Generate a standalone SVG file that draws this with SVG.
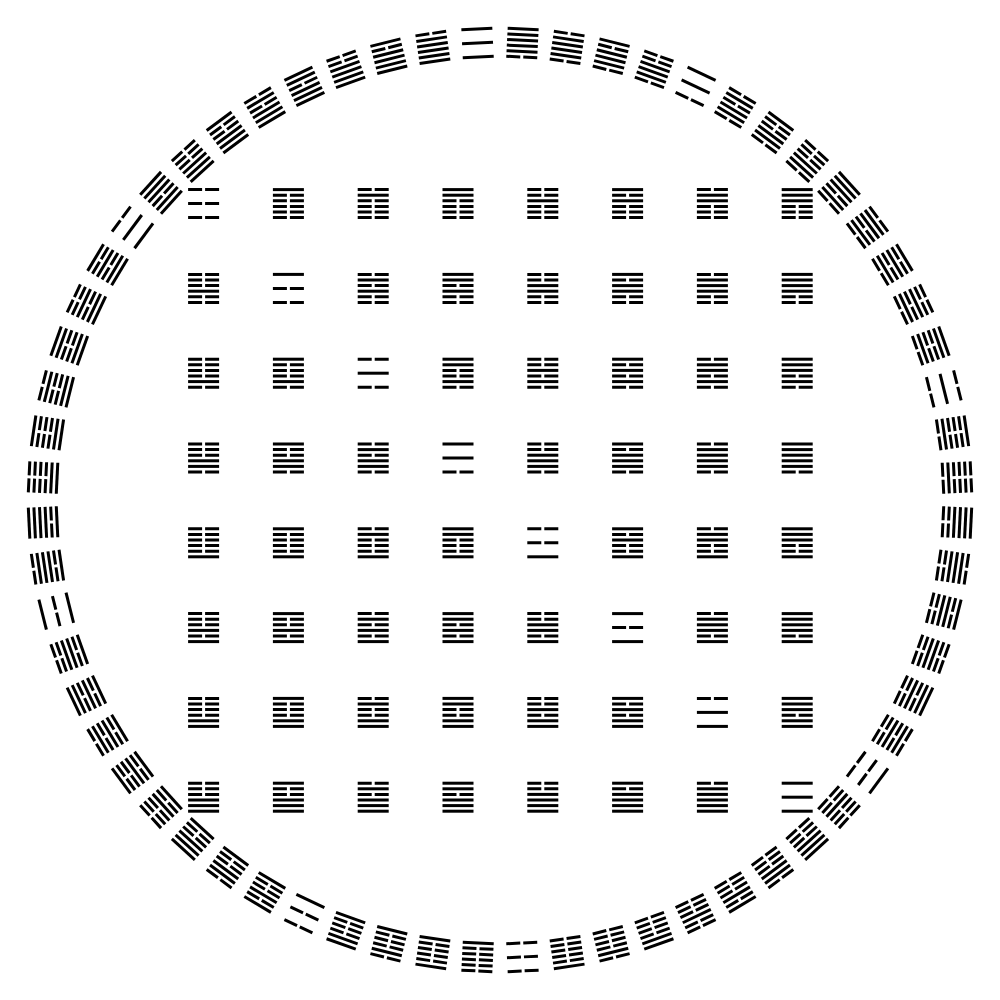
<svg xmlns="http://www.w3.org/2000/svg" xmlns:xlink="http://www.w3.org/1999/xlink" width="1000" height="1000" viewBox="0 0 1000 1000">
<style>
.ln{fill:#000}
</style>
<defs>
<rect id="Y0" class="ln" x="-15.5" y="-15.5" width="31" height="3"/>
<rect id="Y1" class="ln" x="-15.5" y="-9.9" width="31" height="3"/>
<rect id="Y2" class="ln" x="-15.5" y="-4.3" width="31" height="3"/>
<rect id="Y3" class="ln" x="-15.5" y="1.3" width="31" height="3"/>
<rect id="Y4" class="ln" x="-15.5" y="6.9" width="31" height="3"/>
<rect id="Y5" class="ln" x="-15.5" y="12.5" width="31" height="3"/>
<rect id="Ym" class="ln" x="-15.5" y="-1.5" width="31" height="3"/>
<path id="N0" class="ln" d="M-15.5 -15.5h14v3h-14zM1.5 -15.5h14v3h-14z"/>
<path id="N1" class="ln" d="M-15.5 -9.9h14v3h-14zM1.5 -9.9h14v3h-14z"/>
<path id="N2" class="ln" d="M-15.5 -4.3h14v3h-14zM1.5 -4.3h14v3h-14z"/>
<path id="N3" class="ln" d="M-15.5 1.3h14v3h-14zM1.5 1.3h14v3h-14z"/>
<path id="N4" class="ln" d="M-15.5 6.9h14v3h-14zM1.5 6.9h14v3h-14z"/>
<path id="N5" class="ln" d="M-15.5 12.5h14v3h-14zM1.5 12.5h14v3h-14z"/>
<path id="Nm" class="ln" d="M-15.5 -1.5h14v3h-14zM1.5 -1.5h14v3h-14z"/>
<g id="h0"><use href="#N0"/><use href="#Nm"/><use href="#N5"/></g>
<g id="h1"><use href="#Y0"/><use href="#N1"/><use href="#N2"/><use href="#N3"/><use href="#N4"/><use href="#N5"/></g>
<g id="h2"><use href="#N0"/><use href="#Y1"/><use href="#N2"/><use href="#N3"/><use href="#N4"/><use href="#N5"/></g>
<g id="h3"><use href="#Y0"/><use href="#Y1"/><use href="#N2"/><use href="#N3"/><use href="#N4"/><use href="#N5"/></g>
<g id="h4"><use href="#N0"/><use href="#N1"/><use href="#Y2"/><use href="#N3"/><use href="#N4"/><use href="#N5"/></g>
<g id="h5"><use href="#Y0"/><use href="#N1"/><use href="#Y2"/><use href="#N3"/><use href="#N4"/><use href="#N5"/></g>
<g id="h6"><use href="#N0"/><use href="#Y1"/><use href="#Y2"/><use href="#N3"/><use href="#N4"/><use href="#N5"/></g>
<g id="h7"><use href="#Y0"/><use href="#Y1"/><use href="#Y2"/><use href="#N3"/><use href="#N4"/><use href="#N5"/></g>
<g id="h8"><use href="#N0"/><use href="#N1"/><use href="#N2"/><use href="#Y3"/><use href="#N4"/><use href="#N5"/></g>
<g id="h9"><use href="#Y0"/><use href="#Nm"/><use href="#N5"/></g>
<g id="h10"><use href="#N0"/><use href="#Y1"/><use href="#N2"/><use href="#Y3"/><use href="#N4"/><use href="#N5"/></g>
<g id="h11"><use href="#Y0"/><use href="#Y1"/><use href="#N2"/><use href="#Y3"/><use href="#N4"/><use href="#N5"/></g>
<g id="h12"><use href="#N0"/><use href="#N1"/><use href="#Y2"/><use href="#Y3"/><use href="#N4"/><use href="#N5"/></g>
<g id="h13"><use href="#Y0"/><use href="#N1"/><use href="#Y2"/><use href="#Y3"/><use href="#N4"/><use href="#N5"/></g>
<g id="h14"><use href="#N0"/><use href="#Y1"/><use href="#Y2"/><use href="#Y3"/><use href="#N4"/><use href="#N5"/></g>
<g id="h15"><use href="#Y0"/><use href="#Y1"/><use href="#Y2"/><use href="#Y3"/><use href="#N4"/><use href="#N5"/></g>
<g id="h16"><use href="#N0"/><use href="#N1"/><use href="#N2"/><use href="#N3"/><use href="#Y4"/><use href="#N5"/></g>
<g id="h17"><use href="#Y0"/><use href="#N1"/><use href="#N2"/><use href="#N3"/><use href="#Y4"/><use href="#N5"/></g>
<g id="h18"><use href="#N0"/><use href="#Ym"/><use href="#N5"/></g>
<g id="h19"><use href="#Y0"/><use href="#Y1"/><use href="#N2"/><use href="#N3"/><use href="#Y4"/><use href="#N5"/></g>
<g id="h20"><use href="#N0"/><use href="#N1"/><use href="#Y2"/><use href="#N3"/><use href="#Y4"/><use href="#N5"/></g>
<g id="h21"><use href="#Y0"/><use href="#N1"/><use href="#Y2"/><use href="#N3"/><use href="#Y4"/><use href="#N5"/></g>
<g id="h22"><use href="#N0"/><use href="#Y1"/><use href="#Y2"/><use href="#N3"/><use href="#Y4"/><use href="#N5"/></g>
<g id="h23"><use href="#Y0"/><use href="#Y1"/><use href="#Y2"/><use href="#N3"/><use href="#Y4"/><use href="#N5"/></g>
<g id="h24"><use href="#N0"/><use href="#N1"/><use href="#N2"/><use href="#Y3"/><use href="#Y4"/><use href="#N5"/></g>
<g id="h25"><use href="#Y0"/><use href="#N1"/><use href="#N2"/><use href="#Y3"/><use href="#Y4"/><use href="#N5"/></g>
<g id="h26"><use href="#N0"/><use href="#Y1"/><use href="#N2"/><use href="#Y3"/><use href="#Y4"/><use href="#N5"/></g>
<g id="h27"><use href="#Y0"/><use href="#Ym"/><use href="#N5"/></g>
<g id="h28"><use href="#N0"/><use href="#N1"/><use href="#Y2"/><use href="#Y3"/><use href="#Y4"/><use href="#N5"/></g>
<g id="h29"><use href="#Y0"/><use href="#N1"/><use href="#Y2"/><use href="#Y3"/><use href="#Y4"/><use href="#N5"/></g>
<g id="h30"><use href="#N0"/><use href="#Y1"/><use href="#Y2"/><use href="#Y3"/><use href="#Y4"/><use href="#N5"/></g>
<g id="h31"><use href="#Y0"/><use href="#Y1"/><use href="#Y2"/><use href="#Y3"/><use href="#Y4"/><use href="#N5"/></g>
<g id="h32"><use href="#N0"/><use href="#N1"/><use href="#N2"/><use href="#N3"/><use href="#N4"/><use href="#Y5"/></g>
<g id="h33"><use href="#Y0"/><use href="#N1"/><use href="#N2"/><use href="#N3"/><use href="#N4"/><use href="#Y5"/></g>
<g id="h34"><use href="#N0"/><use href="#Y1"/><use href="#N2"/><use href="#N3"/><use href="#N4"/><use href="#Y5"/></g>
<g id="h35"><use href="#Y0"/><use href="#Y1"/><use href="#N2"/><use href="#N3"/><use href="#N4"/><use href="#Y5"/></g>
<g id="h36"><use href="#N0"/><use href="#Nm"/><use href="#Y5"/></g>
<g id="h37"><use href="#Y0"/><use href="#N1"/><use href="#Y2"/><use href="#N3"/><use href="#N4"/><use href="#Y5"/></g>
<g id="h38"><use href="#N0"/><use href="#Y1"/><use href="#Y2"/><use href="#N3"/><use href="#N4"/><use href="#Y5"/></g>
<g id="h39"><use href="#Y0"/><use href="#Y1"/><use href="#Y2"/><use href="#N3"/><use href="#N4"/><use href="#Y5"/></g>
<g id="h40"><use href="#N0"/><use href="#N1"/><use href="#N2"/><use href="#Y3"/><use href="#N4"/><use href="#Y5"/></g>
<g id="h41"><use href="#Y0"/><use href="#N1"/><use href="#N2"/><use href="#Y3"/><use href="#N4"/><use href="#Y5"/></g>
<g id="h42"><use href="#N0"/><use href="#Y1"/><use href="#N2"/><use href="#Y3"/><use href="#N4"/><use href="#Y5"/></g>
<g id="h43"><use href="#Y0"/><use href="#Y1"/><use href="#N2"/><use href="#Y3"/><use href="#N4"/><use href="#Y5"/></g>
<g id="h44"><use href="#N0"/><use href="#N1"/><use href="#Y2"/><use href="#Y3"/><use href="#N4"/><use href="#Y5"/></g>
<g id="h45"><use href="#Y0"/><use href="#Nm"/><use href="#Y5"/></g>
<g id="h46"><use href="#N0"/><use href="#Y1"/><use href="#Y2"/><use href="#Y3"/><use href="#N4"/><use href="#Y5"/></g>
<g id="h47"><use href="#Y0"/><use href="#Y1"/><use href="#Y2"/><use href="#Y3"/><use href="#N4"/><use href="#Y5"/></g>
<g id="h48"><use href="#N0"/><use href="#N1"/><use href="#N2"/><use href="#N3"/><use href="#Y4"/><use href="#Y5"/></g>
<g id="h49"><use href="#Y0"/><use href="#N1"/><use href="#N2"/><use href="#N3"/><use href="#Y4"/><use href="#Y5"/></g>
<g id="h50"><use href="#N0"/><use href="#Y1"/><use href="#N2"/><use href="#N3"/><use href="#Y4"/><use href="#Y5"/></g>
<g id="h51"><use href="#Y0"/><use href="#Y1"/><use href="#N2"/><use href="#N3"/><use href="#Y4"/><use href="#Y5"/></g>
<g id="h52"><use href="#N0"/><use href="#N1"/><use href="#Y2"/><use href="#N3"/><use href="#Y4"/><use href="#Y5"/></g>
<g id="h53"><use href="#Y0"/><use href="#N1"/><use href="#Y2"/><use href="#N3"/><use href="#Y4"/><use href="#Y5"/></g>
<g id="h54"><use href="#N0"/><use href="#Ym"/><use href="#Y5"/></g>
<g id="h55"><use href="#Y0"/><use href="#Y1"/><use href="#Y2"/><use href="#N3"/><use href="#Y4"/><use href="#Y5"/></g>
<g id="h56"><use href="#N0"/><use href="#N1"/><use href="#N2"/><use href="#Y3"/><use href="#Y4"/><use href="#Y5"/></g>
<g id="h57"><use href="#Y0"/><use href="#N1"/><use href="#N2"/><use href="#Y3"/><use href="#Y4"/><use href="#Y5"/></g>
<g id="h58"><use href="#N0"/><use href="#Y1"/><use href="#N2"/><use href="#Y3"/><use href="#Y4"/><use href="#Y5"/></g>
<g id="h59"><use href="#Y0"/><use href="#Y1"/><use href="#N2"/><use href="#Y3"/><use href="#Y4"/><use href="#Y5"/></g>
<g id="h60"><use href="#N0"/><use href="#N1"/><use href="#Y2"/><use href="#Y3"/><use href="#Y4"/><use href="#Y5"/></g>
<g id="h61"><use href="#Y0"/><use href="#N1"/><use href="#Y2"/><use href="#Y3"/><use href="#Y4"/><use href="#Y5"/></g>
<g id="h62"><use href="#N0"/><use href="#Y1"/><use href="#Y2"/><use href="#Y3"/><use href="#Y4"/><use href="#Y5"/></g>
<g id="h63"><use href="#Y0"/><use href="#Ym"/><use href="#Y5"/></g>
</defs>
<rect width="1000" height="1000" fill="#fff"/>
<g id="square">
<g id="sq-0-0" transform="translate(203.6 203.6)"><use href="#h0"/></g>
<g id="sq-0-1" transform="translate(288.4 203.6)"><use href="#h1"/></g>
<g id="sq-0-2" transform="translate(373.2 203.6)"><use href="#h2"/></g>
<g id="sq-0-3" transform="translate(458 203.6)"><use href="#h3"/></g>
<g id="sq-0-4" transform="translate(542.8 203.6)"><use href="#h4"/></g>
<g id="sq-0-5" transform="translate(627.6 203.6)"><use href="#h5"/></g>
<g id="sq-0-6" transform="translate(712.4 203.6)"><use href="#h6"/></g>
<g id="sq-0-7" transform="translate(797.2 203.6)"><use href="#h7"/></g>
<g id="sq-1-0" transform="translate(203.6 288.4)"><use href="#h8"/></g>
<g id="sq-1-1" transform="translate(288.4 288.4)"><use href="#h9"/></g>
<g id="sq-1-2" transform="translate(373.2 288.4)"><use href="#h10"/></g>
<g id="sq-1-3" transform="translate(458 288.4)"><use href="#h11"/></g>
<g id="sq-1-4" transform="translate(542.8 288.4)"><use href="#h12"/></g>
<g id="sq-1-5" transform="translate(627.6 288.4)"><use href="#h13"/></g>
<g id="sq-1-6" transform="translate(712.4 288.4)"><use href="#h14"/></g>
<g id="sq-1-7" transform="translate(797.2 288.4)"><use href="#h15"/></g>
<g id="sq-2-0" transform="translate(203.6 373.2)"><use href="#h16"/></g>
<g id="sq-2-1" transform="translate(288.4 373.2)"><use href="#h17"/></g>
<g id="sq-2-2" transform="translate(373.2 373.2)"><use href="#h18"/></g>
<g id="sq-2-3" transform="translate(458 373.2)"><use href="#h19"/></g>
<g id="sq-2-4" transform="translate(542.8 373.2)"><use href="#h20"/></g>
<g id="sq-2-5" transform="translate(627.6 373.2)"><use href="#h21"/></g>
<g id="sq-2-6" transform="translate(712.4 373.2)"><use href="#h22"/></g>
<g id="sq-2-7" transform="translate(797.2 373.2)"><use href="#h23"/></g>
<g id="sq-3-0" transform="translate(203.6 458)"><use href="#h24"/></g>
<g id="sq-3-1" transform="translate(288.4 458)"><use href="#h25"/></g>
<g id="sq-3-2" transform="translate(373.2 458)"><use href="#h26"/></g>
<g id="sq-3-3" transform="translate(458 458)"><use href="#h27"/></g>
<g id="sq-3-4" transform="translate(542.8 458)"><use href="#h28"/></g>
<g id="sq-3-5" transform="translate(627.6 458)"><use href="#h29"/></g>
<g id="sq-3-6" transform="translate(712.4 458)"><use href="#h30"/></g>
<g id="sq-3-7" transform="translate(797.2 458)"><use href="#h31"/></g>
<g id="sq-4-0" transform="translate(203.6 542.8)"><use href="#h32"/></g>
<g id="sq-4-1" transform="translate(288.4 542.8)"><use href="#h33"/></g>
<g id="sq-4-2" transform="translate(373.2 542.8)"><use href="#h34"/></g>
<g id="sq-4-3" transform="translate(458 542.8)"><use href="#h35"/></g>
<g id="sq-4-4" transform="translate(542.8 542.8)"><use href="#h36"/></g>
<g id="sq-4-5" transform="translate(627.6 542.8)"><use href="#h37"/></g>
<g id="sq-4-6" transform="translate(712.4 542.8)"><use href="#h38"/></g>
<g id="sq-4-7" transform="translate(797.2 542.8)"><use href="#h39"/></g>
<g id="sq-5-0" transform="translate(203.6 627.6)"><use href="#h40"/></g>
<g id="sq-5-1" transform="translate(288.4 627.6)"><use href="#h41"/></g>
<g id="sq-5-2" transform="translate(373.2 627.6)"><use href="#h42"/></g>
<g id="sq-5-3" transform="translate(458 627.6)"><use href="#h43"/></g>
<g id="sq-5-4" transform="translate(542.8 627.6)"><use href="#h44"/></g>
<g id="sq-5-5" transform="translate(627.6 627.6)"><use href="#h45"/></g>
<g id="sq-5-6" transform="translate(712.4 627.6)"><use href="#h46"/></g>
<g id="sq-5-7" transform="translate(797.2 627.6)"><use href="#h47"/></g>
<g id="sq-6-0" transform="translate(203.6 712.4)"><use href="#h48"/></g>
<g id="sq-6-1" transform="translate(288.4 712.4)"><use href="#h49"/></g>
<g id="sq-6-2" transform="translate(373.2 712.4)"><use href="#h50"/></g>
<g id="sq-6-3" transform="translate(458 712.4)"><use href="#h51"/></g>
<g id="sq-6-4" transform="translate(542.8 712.4)"><use href="#h52"/></g>
<g id="sq-6-5" transform="translate(627.6 712.4)"><use href="#h53"/></g>
<g id="sq-6-6" transform="translate(712.4 712.4)"><use href="#h54"/></g>
<g id="sq-6-7" transform="translate(797.2 712.4)"><use href="#h55"/></g>
<g id="sq-7-0" transform="translate(203.6 797.2)"><use href="#h56"/></g>
<g id="sq-7-1" transform="translate(288.4 797.2)"><use href="#h57"/></g>
<g id="sq-7-2" transform="translate(373.2 797.2)"><use href="#h58"/></g>
<g id="sq-7-3" transform="translate(458 797.2)"><use href="#h59"/></g>
<g id="sq-7-4" transform="translate(542.8 797.2)"><use href="#h60"/></g>
<g id="sq-7-5" transform="translate(627.6 797.2)"><use href="#h61"/></g>
<g id="sq-7-6" transform="translate(712.4 797.2)"><use href="#h62"/></g>
<g id="sq-7-7" transform="translate(797.2 797.2)"><use href="#h63"/></g>
</g>
<g id="ring">
<g id="rg-0" transform="rotate(2.8125 500 500)"><use href="#h31" x="500" y="42.5"/></g>
<g id="rg-1" transform="rotate(8.4375 500 500)"><use href="#h30" x="500" y="42.5"/></g>
<g id="rg-2" transform="rotate(14.0625 500 500)"><use href="#h29" x="500" y="42.5"/></g>
<g id="rg-3" transform="rotate(19.6875 500 500)"><use href="#h28" x="500" y="42.5"/></g>
<g id="rg-4" transform="rotate(25.3125 500 500)"><use href="#h27" x="500" y="42.5"/></g>
<g id="rg-5" transform="rotate(30.9375 500 500)"><use href="#h26" x="500" y="42.5"/></g>
<g id="rg-6" transform="rotate(36.5625 500 500)"><use href="#h25" x="500" y="42.5"/></g>
<g id="rg-7" transform="rotate(42.1875 500 500)"><use href="#h24" x="500" y="42.5"/></g>
<g id="rg-8" transform="rotate(47.8125 500 500)"><use href="#h23" x="500" y="42.5"/></g>
<g id="rg-9" transform="rotate(53.4375 500 500)"><use href="#h22" x="500" y="42.5"/></g>
<g id="rg-10" transform="rotate(59.0625 500 500)"><use href="#h21" x="500" y="42.5"/></g>
<g id="rg-11" transform="rotate(64.6875 500 500)"><use href="#h20" x="500" y="42.5"/></g>
<g id="rg-12" transform="rotate(70.3125 500 500)"><use href="#h19" x="500" y="42.5"/></g>
<g id="rg-13" transform="rotate(75.9375 500 500)"><use href="#h18" x="500" y="42.5"/></g>
<g id="rg-14" transform="rotate(81.5625 500 500)"><use href="#h17" x="500" y="42.5"/></g>
<g id="rg-15" transform="rotate(87.1875 500 500)"><use href="#h16" x="500" y="42.5"/></g>
<g id="rg-16" transform="rotate(92.8125 500 500)"><use href="#h15" x="500" y="42.5"/></g>
<g id="rg-17" transform="rotate(98.4375 500 500)"><use href="#h14" x="500" y="42.5"/></g>
<g id="rg-18" transform="rotate(104.0625 500 500)"><use href="#h13" x="500" y="42.5"/></g>
<g id="rg-19" transform="rotate(109.6875 500 500)"><use href="#h12" x="500" y="42.5"/></g>
<g id="rg-20" transform="rotate(115.3125 500 500)"><use href="#h11" x="500" y="42.5"/></g>
<g id="rg-21" transform="rotate(120.9375 500 500)"><use href="#h10" x="500" y="42.5"/></g>
<g id="rg-22" transform="rotate(126.5625 500 500)"><use href="#h9" x="500" y="42.5"/></g>
<g id="rg-23" transform="rotate(132.1875 500 500)"><use href="#h8" x="500" y="42.5"/></g>
<g id="rg-24" transform="rotate(137.8125 500 500)"><use href="#h7" x="500" y="42.5"/></g>
<g id="rg-25" transform="rotate(143.4375 500 500)"><use href="#h6" x="500" y="42.5"/></g>
<g id="rg-26" transform="rotate(149.0625 500 500)"><use href="#h5" x="500" y="42.5"/></g>
<g id="rg-27" transform="rotate(154.6875 500 500)"><use href="#h4" x="500" y="42.5"/></g>
<g id="rg-28" transform="rotate(160.3125 500 500)"><use href="#h3" x="500" y="42.5"/></g>
<g id="rg-29" transform="rotate(165.9375 500 500)"><use href="#h2" x="500" y="42.5"/></g>
<g id="rg-30" transform="rotate(171.5625 500 500)"><use href="#h1" x="500" y="42.5"/></g>
<g id="rg-31" transform="rotate(177.1875 500 500)"><use href="#h0" x="500" y="42.5"/></g>
<g id="rg-32" transform="rotate(182.8125 500 500)"><use href="#h32" x="500" y="42.5"/></g>
<g id="rg-33" transform="rotate(188.4375 500 500)"><use href="#h33" x="500" y="42.5"/></g>
<g id="rg-34" transform="rotate(194.0625 500 500)"><use href="#h34" x="500" y="42.5"/></g>
<g id="rg-35" transform="rotate(199.6875 500 500)"><use href="#h35" x="500" y="42.5"/></g>
<g id="rg-36" transform="rotate(205.3125 500 500)"><use href="#h36" x="500" y="42.5"/></g>
<g id="rg-37" transform="rotate(210.9375 500 500)"><use href="#h37" x="500" y="42.5"/></g>
<g id="rg-38" transform="rotate(216.5625 500 500)"><use href="#h38" x="500" y="42.5"/></g>
<g id="rg-39" transform="rotate(222.1875 500 500)"><use href="#h39" x="500" y="42.5"/></g>
<g id="rg-40" transform="rotate(227.8125 500 500)"><use href="#h40" x="500" y="42.5"/></g>
<g id="rg-41" transform="rotate(233.4375 500 500)"><use href="#h41" x="500" y="42.5"/></g>
<g id="rg-42" transform="rotate(239.0625 500 500)"><use href="#h42" x="500" y="42.5"/></g>
<g id="rg-43" transform="rotate(244.6875 500 500)"><use href="#h43" x="500" y="42.5"/></g>
<g id="rg-44" transform="rotate(250.3125 500 500)"><use href="#h44" x="500" y="42.5"/></g>
<g id="rg-45" transform="rotate(255.9375 500 500)"><use href="#h45" x="500" y="42.5"/></g>
<g id="rg-46" transform="rotate(261.5625 500 500)"><use href="#h46" x="500" y="42.5"/></g>
<g id="rg-47" transform="rotate(267.1875 500 500)"><use href="#h47" x="500" y="42.5"/></g>
<g id="rg-48" transform="rotate(272.8125 500 500)"><use href="#h48" x="500" y="42.5"/></g>
<g id="rg-49" transform="rotate(278.4375 500 500)"><use href="#h49" x="500" y="42.5"/></g>
<g id="rg-50" transform="rotate(284.0625 500 500)"><use href="#h50" x="500" y="42.5"/></g>
<g id="rg-51" transform="rotate(289.6875 500 500)"><use href="#h51" x="500" y="42.5"/></g>
<g id="rg-52" transform="rotate(295.3125 500 500)"><use href="#h52" x="500" y="42.5"/></g>
<g id="rg-53" transform="rotate(300.9375 500 500)"><use href="#h53" x="500" y="42.5"/></g>
<g id="rg-54" transform="rotate(306.5625 500 500)"><use href="#h54" x="500" y="42.5"/></g>
<g id="rg-55" transform="rotate(312.1875 500 500)"><use href="#h55" x="500" y="42.5"/></g>
<g id="rg-56" transform="rotate(317.8125 500 500)"><use href="#h56" x="500" y="42.5"/></g>
<g id="rg-57" transform="rotate(323.4375 500 500)"><use href="#h57" x="500" y="42.5"/></g>
<g id="rg-58" transform="rotate(329.0625 500 500)"><use href="#h58" x="500" y="42.5"/></g>
<g id="rg-59" transform="rotate(334.6875 500 500)"><use href="#h59" x="500" y="42.5"/></g>
<g id="rg-60" transform="rotate(340.3125 500 500)"><use href="#h60" x="500" y="42.5"/></g>
<g id="rg-61" transform="rotate(345.9375 500 500)"><use href="#h61" x="500" y="42.5"/></g>
<g id="rg-62" transform="rotate(351.5625 500 500)"><use href="#h62" x="500" y="42.5"/></g>
<g id="rg-63" transform="rotate(357.1875 500 500)"><use href="#h63" x="500" y="42.5"/></g>
</g>
</svg>
